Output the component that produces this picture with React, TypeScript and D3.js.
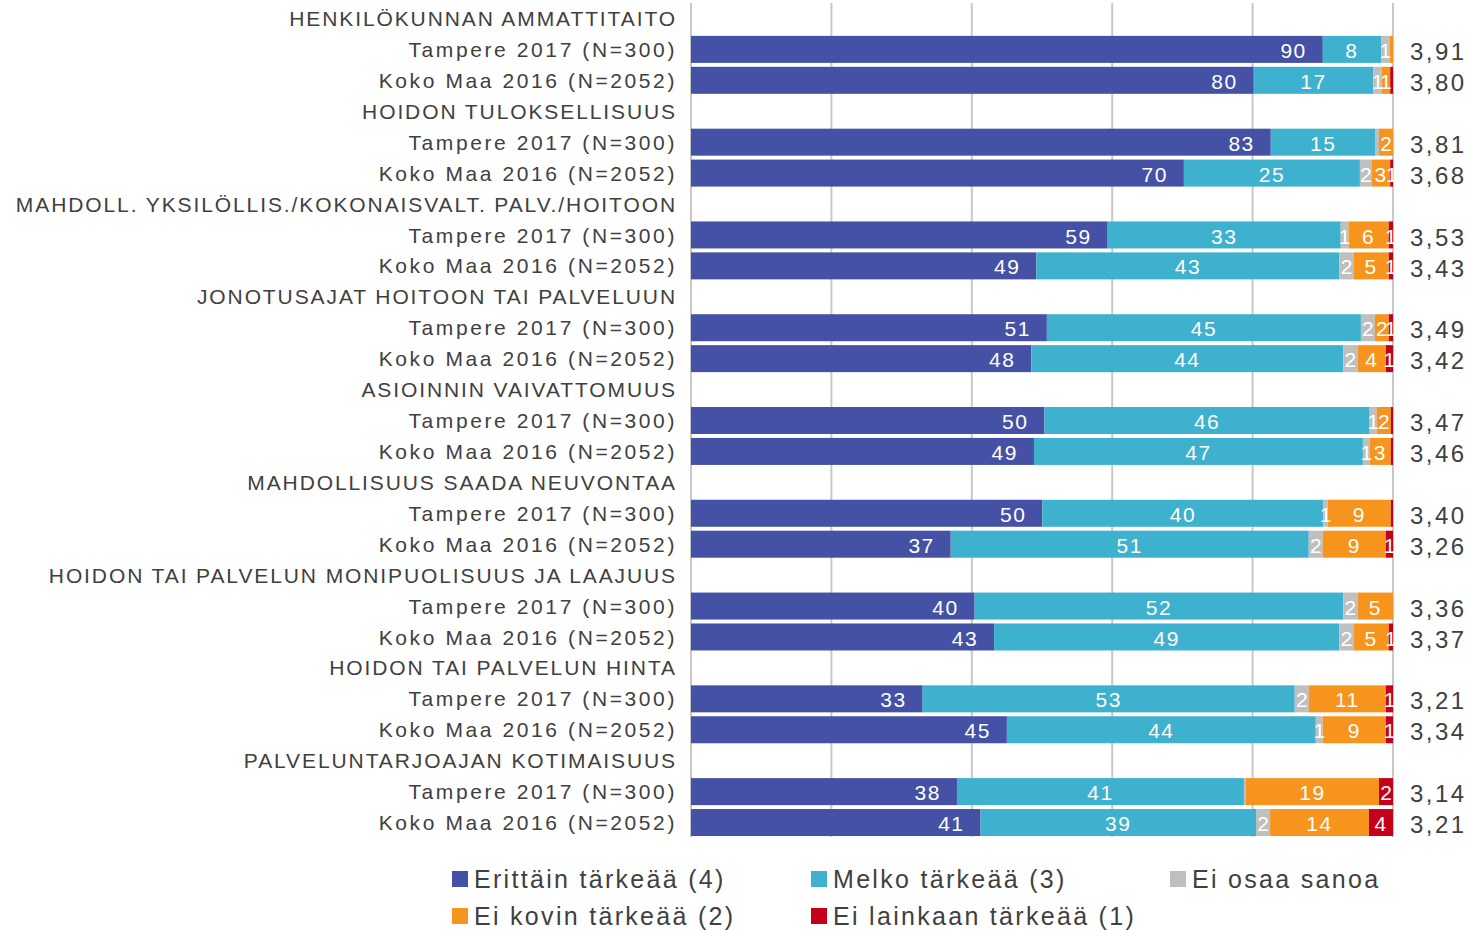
import React from "react";
import * as d3 from "d3";

const categories = [
  "HENKILÖKUNNAN AMMATTITAITO",
  "HOIDON TULOKSELLISUUS",
  "MAHDOLL. YKSILÖLLIS./KOKONAISVALT. PALV./HOITOON",
  "JONOTUSAJAT HOITOON TAI PALVELUUN",
  "ASIOINNIN VAIVATTOMUUS",
  "MAHDOLLISUUS SAADA NEUVONTAA",
  "HOIDON TAI PALVELUN MONIPUOLISUUS JA LAAJUUS",
  "HOIDON TAI PALVELUN HINTA",
  "PALVELUNTARJOAJAN KOTIMAISUUS",
];
const groups = ["Tampere 2017 (N=300)", "Koko Maa 2016 (N=2052)"];
const seriesNames = [
  "Erittäin tärkeää (4)",
  "Melko tärkeää (3)",
  "Ei osaa sanoa",
  "Ei kovin tärkeää (2)",
  "Ei lainkaan tärkeää (1)",
];
const seriesColors = ["#4551a5", "#3db1cd", "#bfbfbf", "#f7941d", "#c5001a"];

// per category: [Tampere, Koko Maa], values in series order
const erittain = [[90, 80], [83, 70], [59, 49], [51, 48], [50, 49], [50, 37], [40, 43], [33, 45], [38, 41]];
const melko = [[8.3, 17], [15, 25], [33, 43], [45, 44], [46, 47], [40, 51], [52, 49], [53, 44], [41, 39]];
const eiOsaa = [[1.2, 1.2], [0.5, 1.7], [1.1, 2], [2, 2], [1, 1], [0.6, 2], [2, 2], [2, 1], [0.3, 2]];
const eiKovin = [[0.5, 1.2], [2, 2.6], [5.7, 5], [2, 4], [2, 3], [9, 9], [5, 5], [11, 9], [19, 14]];
const eiLainkaan = [[0, 0.4], [0, 0.4], [0.6, 0.6], [0.6, 1], [0.3, 0.3], [0.3, 1], [0, 0.6], [1, 1], [2, 3.4]];
const means = [["3,91", "3,80"], ["3,81", "3,68"], ["3,53", "3,43"], ["3,49", "3,42"], ["3,47", "3,46"], ["3,40", "3,26"], ["3,36", "3,37"], ["3,21", "3,34"], ["3,14", "3,21"]];
// labels as printed on the chart
const labelOverrides: Record<string, string> = {
  "0-0-1": "8",
  "0-0-2": "1",
  "0-1-2": "1",
  "0-1-3": "1",
  "1-1-2": "2",
  "1-1-3": "3",
  "1-1-4": "1",
  "2-0-2": "1",
  "2-0-3": "6",
  "2-0-4": "1",
  "2-1-4": "1",
  "3-0-4": "1",
  "3-1-4": "1",
  "5-0-2": "1",
  "5-1-4": "1",
  "6-1-4": "1",
  "8-1-4": "4",
};
const xTicks = [0, 20, 40, 60, 80, 100];

const seriesData = [erittain, melko, eiOsaa, eiKovin, eiLainkaan];

type Row = { key: string; kind: "header" | "bar"; label: string; c: number; g: number };

const rows: Row[] = [];
categories.forEach((cat, c) => {
  rows.push({ key: `h${c}`, kind: "header", label: cat, c, g: -1 });
  groups.forEach((g, gi) => rows.push({ key: `b${c}-${gi}`, kind: "bar", label: g, c, g: gi }));
});

export default function App() {
  const W = 1470;
  const H = 930;
  const x = d3.scaleLinear().domain([0, 100]).range([691, 1393]);
  const y = d3.scaleBand<string>().domain(rows.map((r) => r.key)).range([3, 838]).paddingInner(0);
  const barH = 27;
  const textColor = "#404040";
  const font = "'Liberation Sans', Arial, sans-serif";

  const legendPos = [
    [452, 879],
    [811, 879],
    [1170, 879],
    [452, 916],
    [811, 916],
  ];

  return (
    <svg width={W} height={H} style={{ position: "absolute", left: 0, top: 0, background: "#fff" }} fontFamily={font}>
      {xTicks.map((t) => (
        <line key={t} x1={x(t)} x2={x(t)} y1={3} y2={837} stroke="#c8c8c8" strokeWidth={2} />
      ))}
      {rows.map((r) => {
        const cy = (y(r.key) as number) + y.bandwidth() / 2;
        if (r.kind === "header") {
          return (
            <text key={r.key} x={677} y={cy} dy="0.36em" textAnchor="end" fontSize={21} letterSpacing={1.9} fill={textColor}>
              {r.label}
            </text>
          );
        }
        const vals = seriesData.map((s) => s[r.c][r.g]);
        const total = d3.sum(vals);
        let acc = 0;
        const segs = vals.map((v, si) => {
          const x0 = x((acc / total) * 100);
          acc += v;
          const x1 = x((acc / total) * 100);
          const ov = labelOverrides[`${r.c}-${r.g}-${si}`];
          const label = ov !== undefined ? ov : v >= 1 ? String(Math.round(v)) : "";
          return { x0, x1, si, label };
        });
        return (
          <g key={r.key}>
            <text x={677} y={cy} dy="0.36em" textAnchor="end" fontSize={21} letterSpacing={2.6} fill={textColor}>
              {r.label}
            </text>
            {segs.map((s) =>
              s.x1 - s.x0 > 0 ? (
                <rect key={s.si} x={s.x0} y={cy - barH / 2} width={s.x1 - s.x0} height={barH} fill={seriesColors[s.si]} />
              ) : null
            )}
            {segs.map((s) => {
              if (!s.label) return null;
              const first = s.si === 0;
              const small = s.x1 - s.x0 < 16;
              return (
                <text
                  key={`t${s.si}`}
                  x={first ? s.x1 - 16 : (s.x0 + s.x1) / 2}
                  y={cy + 1}
                  dy="0.36em"
                  textAnchor={first ? "end" : "middle"}
                  fontSize={21}
                  letterSpacing={small ? 0 : 1.5}
                  fill="#fff"
                >
                  {s.label}
                </text>
              );
            })}
            <text x={1410} y={cy + 2} dy="0.36em" fontSize={24} letterSpacing={2.5} fill={textColor}>
              {means[r.c][r.g]}
            </text>
          </g>
        );
      })}
      {seriesNames.map((n, i) => (
        <g key={n}>
          <rect x={legendPos[i][0]} y={legendPos[i][1] - 8} width={16} height={16} fill={seriesColors[i]} />
          <text x={legendPos[i][0] + 22} y={legendPos[i][1]} dy="0.36em" fontSize={25} letterSpacing={2.3} fill={textColor}>
            {n}
          </text>
        </g>
      ))}
    </svg>
  );
}
